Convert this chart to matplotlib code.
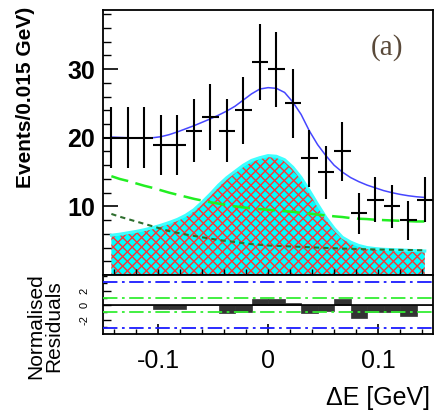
import matplotlib
matplotlib.use('Agg')
import matplotlib.pyplot as plt
import numpy as np
from matplotlib.ticker import MultipleLocator, FixedLocator
from matplotlib.collections import LineCollection

plt.rcParams['font.family'] = ['Liberation Sans', 'DejaVu Sans']

# data points (bin centres, 0.015 GeV bins)
bin_x = [-0.1425, -0.1275, -0.1125, -0.0975, -0.0825, -0.0675, -0.0525, -0.0375, -0.0225, -0.0075,
         0.0075, 0.0225, 0.0375, 0.0525, 0.0675, 0.0825, 0.0975, 0.1125, 0.1275, 0.1425]
counts = [20, 20, 20, 19, 19, 21, 23, 21, 24, 31, 30, 25, 17, 15, 18, 9, 11, 10, 8, 11]
errs = [4.47, 4.47, 4.47, 4.36, 4.36, 4.58, 4.80, 4.58, 4.90, 5.57,
        5.48, 5.00, 4.12, 3.87, 4.24, 3.00, 3.32, 3.16, 2.83, 3.32]

# fit curves
curve_x = [-0.1425, -0.135, -0.1275, -0.12, -0.1125, -0.105, -0.0975, -0.09, -0.0825, -0.075,
           -0.0675, -0.06, -0.0525, -0.045, -0.0375, -0.03, -0.0225, -0.015, -0.0075, 0.0,
           0.0075, 0.015, 0.0225, 0.03, 0.0375, 0.045, 0.0525, 0.06, 0.0675, 0.075,
           0.0825, 0.09, 0.0975, 0.105, 0.1125, 0.12, 0.1275, 0.135, 0.1425]
total = [20.1, 20.05, 20.0, 19.95, 19.95, 20.0, 20.15, 20.45, 20.85, 21.3,
         21.75, 22.25, 22.75, 23.3, 23.9, 24.6, 25.5, 26.4, 27.1, 27.3,
         27.2, 26.6, 25.2, 23.4, 21.0, 19.0, 17.4, 16.0, 15.0, 14.2,
         13.6, 13.1, 12.7, 12.3, 12.0, 11.75, 11.55, 11.4, 11.3]
peaking = [5.8, 5.95, 6.15, 6.35, 6.6, 6.9, 7.25, 7.65, 8.1, 8.7,
           9.5, 10.6, 11.8, 13.1, 14.2, 15.1, 16.0, 16.7, 17.1, 17.4,
           17.3, 16.8, 15.7, 14.2, 12.3, 10.3, 8.4, 6.8, 5.5, 4.8,
           4.3, 4.0, 3.85, 3.75, 3.7, 3.65, 3.6, 3.55, 3.5]
bkg = [14.4, 14.0, 13.7, 13.35, 13.0, 12.7, 12.35, 12.0, 11.7, 11.4,
       11.1, 10.85, 10.6, 10.4, 10.2, 10.0, 9.85, 9.7, 9.6, 9.5,
       9.4, 9.3, 9.2, 9.05, 8.95, 8.8, 8.7, 8.55, 8.45, 8.3,
       8.2, 8.15, 8.05, 8.0, 7.95, 7.9, 7.85, 7.8, 7.8]
continuum = [8.9, 8.5, 8.15, 7.8, 7.45, 7.1, 6.75, 6.4, 6.15, 5.9,
             5.7, 5.5, 5.3, 5.1, 4.95, 4.8, 4.65, 4.5, 4.4, 4.3,
             4.25, 4.2, 4.15, 4.1, 4.05, 4.0, 3.95, 3.9, 3.85, 3.82,
             3.78, 3.75, 3.72, 3.7, 3.68, 3.66, 3.64, 3.62, 3.6]

# normalised residuals per bin
resid = [0, 0, 0, -0.5, -0.5, 0, 0, -1.1, -0.9, 0.9,
         0.9, 0.3, -1.05, -0.8, 0.9, -1.8, -0.9, -0.9, -1.5, 0]

fig = plt.figure(figsize=(4.37, 4.12), dpi=100)
ax = fig.add_axes([0.236, 0.3325, 0.755, 0.643])
axr = fig.add_axes([0.236, 0.19, 0.755, 0.1425], sharex=ax)

# peaking component: cyan face with red cross-hatch clipped to it
poly = ax.fill_between(curve_x, 0, peaking, facecolor='#00ffff', lw=0, zorder=1)
W = 0.755 * 437
H = 0.643 * 412
step = 9.5  # hatch spacing in pixels
segs = []
for c in np.arange(-H, W + step, step):
    segs.append([(c / W, 0), ((c + H) / W, 1)])
    segs.append([(c / W, 1), ((c + H) / W, 0)])
hatch = LineCollection(segs, colors='#ff3333', linewidths=1.0, transform=ax.transAxes, zorder=1.5)
ax.add_collection(hatch, autolim=False)
hatch.set_clip_path(poly.get_paths()[0], ax.transData)
ax.plot(curve_x, peaking, color='#40ffff', lw=2.2, zorder=2)
ax.plot(curve_x, continuum, color='#2e6e2e', lw=1.5, dashes=(2.5, 2), zorder=3)
ax.plot(curve_x, bkg, color='#22ee22', lw=1.8, dashes=(7, 3), zorder=3)
ax.plot(curve_x, total, color='#4646ff', lw=1.1, zorder=4)
ax.errorbar(bin_x, counts, yerr=errs, xerr=0.0075, fmt='none', ecolor='black', elinewidth=1.5, capsize=0, zorder=5)

ax.set_xlim(-0.15, 0.15)
ax.set_ylim(0, 38.6)
ax.yaxis.set_major_locator(FixedLocator([10, 20, 30]))
ax.yaxis.set_minor_locator(MultipleLocator(2))
ax.xaxis.set_major_locator(MultipleLocator(0.1))
ax.xaxis.set_minor_locator(MultipleLocator(0.02))
ax.tick_params(axis='y', which='major', direction='in', length=11, width=1.2, labelsize=18, pad=6)
ax.tick_params(axis='y', which='minor', direction='in', length=6, width=1.0)
ax.tick_params(axis='x', which='both', direction='in', length=4, width=1.0, labelbottom=False)
for lab in ax.get_yticklabels():
    lab.set_fontweight('bold')
for s in ax.spines.values():
    s.set_linewidth(1.3)
ax.set_ylabel('Events/0.015 GeV)', fontsize=15, fontweight='bold')
ax.yaxis.set_label_coords(-0.205, 0.67)
ax.text(0.86, 0.857, '(a)', transform=ax.transAxes, fontsize=21, color='#5a4a3a',
        family='Liberation Serif', ha='center', va='center')

# residual panel
axr.bar(bin_x, resid, width=0.015, color='#333333', edgecolor='#333333', lw=0.5, zorder=1)
axr.axhline(0, color='black', lw=1.2, zorder=2)
for v in (1, -1):
    axr.axhline(v, color='#33ee33', lw=1.3, dashes=(8, 2.5, 1.5, 2.5), zorder=3)
for v in (3.2, -3.2):
    axr.axhline(v, color='#1a1aff', lw=1.3, dashes=(8, 2.5, 1.5, 2.5), zorder=3)
axr.set_ylim(-3.95, 4.15)
axr.yaxis.set_minor_locator(MultipleLocator(1))
axr.set_yticks([-2, 0, 2])
axr.set_yticklabels(['-2', '0', '2'], rotation=90, va='center')
axr.tick_params(axis='y', which='major', direction='in', length=6, width=1.0, labelsize=8, pad=10)
axr.tick_params(axis='y', which='minor', direction='in', length=3, width=1.0)
axr.tick_params(axis='x', which='major', direction='in', length=7, width=1.2, labelsize=18, pad=11)
axr.tick_params(axis='x', which='minor', direction='in', length=3.5, width=1.0)
axr.set_xticks([-0.1, 0, 0.1])
axr.set_xticklabels(['-0.1', '0', '0.1'])
for s in axr.spines.values():
    s.set_linewidth(1.3)
fig.text(0.103, 0.209, 'Normalised\nResiduals', rotation=90, fontsize=15, ha='center', va='center',
         linespacing=0.95)
fig.text(0.985, 0.035, '\u0394E [GeV]', fontsize=18, ha='right', va='center')

fig.savefig('out.png', dpi=100)
